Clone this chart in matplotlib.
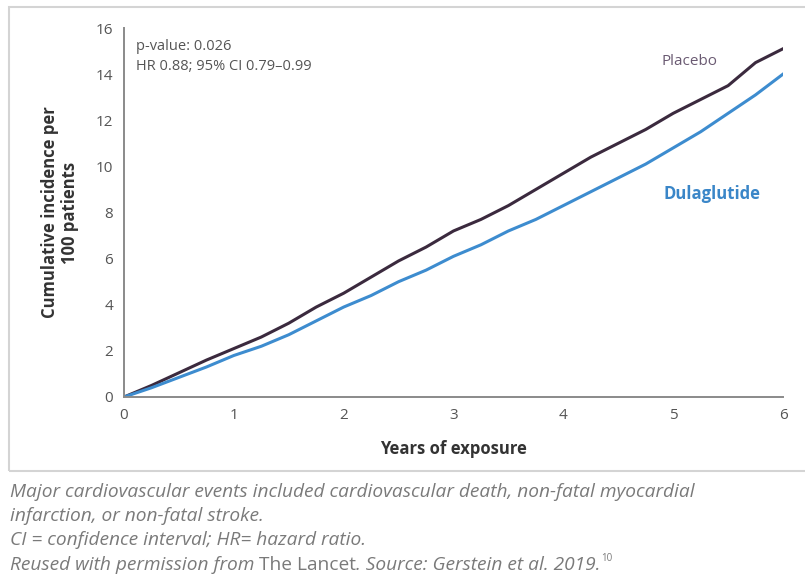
import matplotlib.pyplot as plt
from matplotlib.patches import Rectangle

# values
years = [0, 0.25, 0.5, 0.75, 1.0, 1.25, 1.5, 1.75, 2.0, 2.25, 2.5, 2.75, 3.0,
         3.25, 3.5, 3.75, 4.0, 4.25, 4.5, 4.75, 5.0, 5.25, 5.5, 5.75, 6.0]
placebo = [0, 0.5, 1.05, 1.6, 2.1, 2.6, 3.2, 3.9, 4.5, 5.2, 5.9, 6.5, 7.2,
           7.7, 8.3, 9.0, 9.7, 10.4, 11.0, 11.6, 12.3, 12.9, 13.5, 14.5, 15.1]
dulaglutide = [0, 0.4, 0.85, 1.3, 1.8, 2.2, 2.7, 3.3, 3.9, 4.4, 5.0, 5.5, 6.1,
               6.6, 7.2, 7.7, 8.3, 8.9, 9.5, 10.1, 10.8, 11.5, 12.3, 13.1, 14.0]
xticks = [0, 1, 2, 3, 4, 5, 6]
yticks = [0, 2, 4, 6, 8, 10, 12, 14, 16]

FONT = ["Open Sans", "DejaVu Sans"]
plt.rcParams["font.family"] = FONT

fig = plt.figure(figsize=(8.05, 5.81), dpi=100)
ax = fig.add_axes([124 / 805, 1 - 397 / 581, (783 - 124) / 805, (397 - 28) / 581])

# frame around the chart
fig.patches.append(Rectangle((9 / 805, 1 - 471 / 581), 1.0, (471 - 7) / 581,
                             transform=fig.transFigure, fill=False,
                             edgecolor="#d4d4d4", linewidth=1.5, zorder=0))

ax.plot(years, placebo, color="#3b2a3e", linewidth=2.2)
ax.plot(years, dulaglutide, color="#3d8ccf", linewidth=2.2)

ax.set_xlim(0, 6)
ax.set_ylim(0, 16)
ax.set_xticks(xticks)
ax.set_yticks(yticks)
ax.tick_params(length=0, labelsize=11, labelcolor="#555555", pad=8)
for s in ["top", "right"]:
    ax.spines[s].set_visible(False)
for s in ["left", "bottom"]:
    ax.spines[s].set_color("#8a8a8a")
    ax.spines[s].set_linewidth(1.4)

ax.set_xlabel("Years of exposure", fontsize=12, fontweight="bold", color="#333333", labelpad=12)
ax.set_ylabel("Cumulative incidence per\n100 patients", fontsize=12, fontweight="bold",
              color="#333333", labelpad=12, linespacing=1.1)

ax.text(0.018, 0.97, "p-value: 0.026\nHR 0.88; 95% CI 0.79\u20130.99", transform=ax.transAxes,
        fontsize=10.5, color="#555555", va="top", linespacing=1.45)
ax.text(5.15, 14.4, "Placebo", fontsize=11, color="#6a5a72", ha="center")
ax.text(5.35, 8.6, "Dulaglutide", fontsize=12, fontweight="bold", color="#3a86c8", ha="center")

# caption below the frame
cap = dict(fontsize=13.8, color="#7a7a7a", style="italic")
fig.text(10 / 805, 1 - 492 / 581, "Major cardiovascular events included cardiovascular death, non-fatal myocardial",
         va="center", **cap)
fig.text(10 / 805, 1 - 516 / 581, "infarction, or non-fatal stroke.", va="center", **cap)
fig.text(10 / 805, 1 - 540 / 581, "CI = confidence interval; HR= hazard ratio.", va="center", **cap)
t1 = fig.text(10 / 805, 1 - 565 / 581, "Reused with permission from ", va="center", **cap)
a2 = fig.add_artist(plt.Annotation("The Lancet", xy=(1, 0), xycoords=t1, va="bottom",
                                   fontsize=13.8, color="#7a7a7a"))
a3 = fig.add_artist(plt.Annotation(". Source: Gerstein et al. 2019.", xy=(1, 0), xycoords=a2,
                                   va="bottom", **cap))
fig.add_artist(plt.Annotation("10", xy=(1, 0.55), xycoords=a3, va="bottom",
                              fontsize=7, color="#7a7a7a"))

fig.savefig("out.png", dpi=100)
